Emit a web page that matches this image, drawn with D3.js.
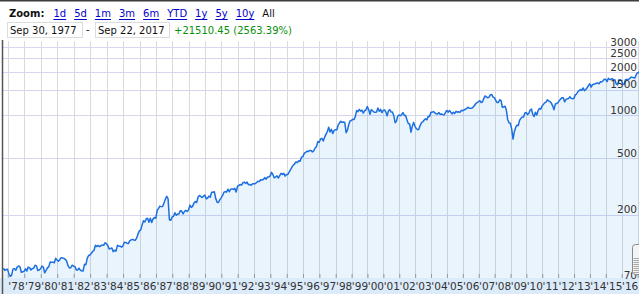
<!DOCTYPE html>
<html>
<head>
<meta charset="utf-8">
<script src="https://cdn.jsdelivr.net/npm/d3@7"></script>
<style>
  html, body { margin: 0; padding: 0; background: #fff; }
  svg { display: block; overflow: hidden; font-family: "DejaVu Sans", Verdana, sans-serif; }
</style>
</head>
<body>
<svg id="chart" width="639" height="294"></svg>
<script>
"use strict";

// monthly closes, Sep 1977 .. Sep 2017
var dow70s = [847, 818, 829, 831,
  770, 742, 757, 837, 841, 819, 862, 877, 866, 793, 799, 805,
  839, 809, 862, 855, 822, 842, 846, 888, 879, 816, 822, 839];
var dow80s = [876, 863, 786, 817, 851, 868, 935, 933, 932, 924, 993, 964,
  947, 975, 1004, 998, 992, 977, 952, 882, 850, 853, 889, 875,
  871, 824, 822, 848, 820, 812, 809, 901, 896, 992, 1039, 1047,
  1076, 1113, 1130, 1226, 1200, 1222, 1199, 1216, 1233, 1225, 1276, 1259,
  1221, 1155, 1165, 1171, 1105, 1132, 1115, 1225, 1207, 1207, 1189, 1212,
  1287, 1284, 1267, 1259, 1316, 1336, 1348, 1334, 1329, 1374, 1472, 1547,
  1571, 1709, 1819, 1784, 1877, 1893, 1775, 1898, 1768, 1878, 1914, 1896,
  2158, 2224, 2305, 2286, 2292, 2419, 2572, 2700, 2596, 1850, 1834, 1939,
  1958, 2072, 1988, 2032, 2031, 2142, 2129, 2032, 2113, 2149, 2115, 2169,
  2342, 2258, 2294, 2419, 2480, 2440, 2661, 2737, 2693, 2645, 2706, 2753];
var dow90s = [2591, 2627, 2707, 2657, 2877, 2881, 2905, 2614, 2453, 2442, 2560, 2634,
  2736, 2882, 2914, 2888, 3028, 2907, 3025, 3044, 3017, 3069, 2895, 3169,
  3224, 3267, 3236, 3359, 3397, 3319, 3394, 3257, 3272, 3226, 3305, 3301,
  3310, 3371, 3435, 3428, 3527, 3516, 3540, 3651, 3555, 3681, 3684, 3754,
  3978, 3832, 3636, 3682, 3758, 3625, 3765, 3913, 3843, 3908, 3739, 3834,
  3844, 4011, 4158, 4321, 4465, 4556, 4709, 4647, 4789, 4756, 5075, 5117,
  5395, 5486, 5587, 5569, 5643, 5655, 5529, 5616, 5882, 6029, 6522, 6448,
  6813, 6878, 6584, 7009, 7331, 7673, 8223, 7622, 7945, 7442, 7823, 7908,
  7907, 8546, 8800, 9063, 8900, 8952, 8883, 7539, 7843, 8592, 9117, 9181,
  9359, 9307, 9786, 10789, 10560, 10971, 10655, 10829, 10337, 10730, 10878, 11497];
var dow00s = [10941, 10128, 10922, 10734, 10522, 10448, 10522, 11215, 10651, 10971, 10415, 10787,
  10887, 10495, 9879, 10735, 10912, 10502, 10523, 9950, 8848, 9075, 9852, 10022,
  9920, 10106, 10404, 9946, 9925, 9243, 8737, 8664, 7592, 8397, 8896, 8342,
  8054, 7891, 7992, 8480, 8850, 8985, 9234, 9416, 9275, 9801, 9782, 10454,
  10488, 10584, 10358, 10226, 10188, 10435, 10140, 10174, 10080, 10027, 10428, 10783,
  10490, 10766, 10504, 10193, 10467, 10275, 10641, 10482, 10569, 10440, 10806, 10718,
  10865, 10993, 11109, 11367, 11168, 11150, 11186, 11381, 11679, 12081, 12221, 12463,
  12622, 12269, 12354, 13063, 13628, 13409, 13212, 13358, 13896, 13930, 13372, 13265,
  12650, 12266, 12263, 12820, 12638, 11350, 11378, 11544, 10851, 9325, 8829, 8776,
  8001, 6800, 7609, 8168, 8500, 8447, 9172, 9496, 9712, 9713, 10345, 10428];
var dow10s = [10067, 10325, 10857, 11009, 10137, 9774, 10466, 10015, 10788, 11118, 11006, 11578,
  11892, 12226, 12320, 12811, 12570, 12414, 12143, 11614, 10913, 11955, 12046, 12218,
  12633, 12952, 13212, 13214, 12393, 12880, 13009, 13091, 13437, 13096, 13026, 13104,
  13861, 14054, 14579, 14840, 15116, 14910, 15500, 14810, 15130, 15546, 16086, 16577,
  15699, 16322, 16458, 16581, 16717, 16827, 16563, 17098, 17043, 17391, 17828, 17823,
  17165, 18133, 17776, 17841, 18011, 17620, 17690, 16528, 16285, 17664, 17720, 17425,
  16466, 16517, 17685, 17774, 17787, 17930, 18432, 18401, 18308, 18142, 19124, 19763,
  19864, 20812, 20663, 20941, 21009, 21350, 21891, 21948, 22349];

var yTicks = [700, 2000, 5000, 10000, 15000, 20000, 25000, 30000];
var yTickLabels = ["70", "200", "500", "1000", "1500", "2000", "2500", "3000"];
var years = d3.range(1978, 2018);
var yearLabels = years.slice(0, -1).map(function(yr) { return "'" + String(yr).slice(2); });

var zoomLinks = ["1d", "5d", "1m", "3m", "6m", "YTD", "1y", "5y", "10y"];
var rangeFrom = "Sep 30, 1977";
var rangeTo = "Sep 22, 2017";
var changeText = "+21510.45 (2563.39%)";

var closes = dow70s.concat(dow80s, dow90s, dow00s, dow10s);
var series = closes.map(function(v, i) {
  return { date: i === 0 ? new Date(1977, 8, 30) : new Date(1977, 8 + i, 28), value: v };
});

var svg = d3.select("#chart");
var plotTop = 41, bandTop = 278;

// x is not quite uniform in the original (it steps by trading days)
var x = d3.scaleTime()
  .domain([new Date(1977, 8, 30), new Date(1979, 0, 1), new Date(1987, 0, 1),
           new Date(1998, 0, 1), new Date(2016, 0, 1), new Date(2017, 8, 22)])
  .range([3.5, 24.3, 156, 335.7, 621.7, 649]);

var y = d3.scaleLog().domain([700, 30000]).range([280, 47]);

// header
svg.append("line")
  .attr("x1", 0).attr("x2", 639).attr("y1", 0.75).attr("y2", 0.75)
  .attr("stroke", "#3c3c3c").attr("stroke-width", 1.5);

var header = svg.append("g").attr("font-size", 10);
var zoomLabel = header.append("text")
  .attr("x", 9).attr("y", 17)
  .attr("font-weight", "bold").attr("fill", "#111")
  .text("Zoom:");

var cursor = 9 + zoomLabel.node().getComputedTextLength() + 9;
zoomLinks.forEach(function(name) {
  var t = header.append("text")
    .attr("x", cursor).attr("y", 17)
    .attr("fill", "#0000cc")
    .text(name);
  var w = t.node().getComputedTextLength();
  header.append("line")
    .attr("x1", cursor).attr("x2", cursor + w)
    .attr("y1", 19.5).attr("y2", 19.5)
    .attr("stroke", "#0000cc").attr("stroke-width", 1);
  cursor += w + 8;
});
header.append("text").attr("x", cursor).attr("y", 17).attr("fill", "#111").text("All");

header.append("rect")
  .attr("x", 7.5).attr("y", 22.5).attr("width", 75).attr("height", 15)
  .attr("fill", "#fff").attr("stroke", "#dcdcdc");
header.append("text").attr("x", 10).attr("y", 33.5).attr("fill", "#111").text(rangeFrom);
header.append("text").attr("x", 86).attr("y", 33).attr("fill", "#111").text("-");
header.append("rect")
  .attr("x", 95.5).attr("y", 22.5).attr("width", 74).attr("height", 15)
  .attr("fill", "#fff").attr("stroke", "#dcdcdc");
header.append("text").attr("x", 98).attr("y", 33.5).attr("fill", "#111").text(rangeTo);
header.append("text").attr("x", 174).attr("y", 33.5).attr("fill", "#0a8f0a").text(changeText);

// grid
var grid = svg.append("g");
grid.selectAll("line.v")
  .data(years)
  .enter().append("line")
  .attr("class", "v")
  .attr("x1", function(yr) { return Math.round(x(new Date(yr, 0, 1))) + 0.5; })
  .attr("x2", function(yr) { return Math.round(x(new Date(yr, 0, 1))) + 0.5; })
  .attr("y1", plotTop).attr("y2", bandTop)
  .attr("stroke", "#dadada");
grid.selectAll("line.h")
  .data(yTicks)
  .enter().append("line")
  .attr("class", "h")
  .attr("x1", 3).attr("x2", 639)
  .attr("y1", function(d) { return Math.round(y(d)) + 0.5; })
  .attr("y2", function(d) { return Math.round(y(d)) + 0.5; })
  .attr("stroke", "#d6d6f0");

// area + line
var area = d3.area()
  .x(function(d) { return x(d.date); })
  .y0(bandTop)
  .y1(function(d) { return y(d.value); });
var line = d3.line()
  .x(function(d) { return x(d.date); })
  .y(function(d) { return y(d.value); });

svg.append("path")
  .datum(series)
  .attr("d", area)
  .attr("fill", "#0a7de6")
  .attr("fill-opacity", 0.085);
svg.append("path")
  .datum(series)
  .attr("d", line)
  .attr("fill", "none")
  .attr("stroke", "#1b6fe0")
  .attr("stroke-width", 1.5)
  .attr("stroke-linejoin", "round");

// bottom band with year ticks and labels
svg.append("rect")
  .attr("x", 0).attr("y", bandTop).attr("width", 639).attr("height", 294 - bandTop)
  .attr("fill", "#dcebf9");

var tickAxis = svg.append("g")
  .attr("transform", "translate(0," + bandTop + ")")
  .call(d3.axisTop(x)
    .tickValues(years.map(function(yr) { return new Date(yr, 0, 1); }))
    .tickSize(4)
    .tickFormat(""));
tickAxis.select(".domain").remove();
tickAxis.selectAll("line").attr("stroke", "#999");

var labelAxis = svg.append("g")
  .attr("transform", "translate(0," + bandTop + ")")
  .call(d3.axisBottom(x)
    .tickValues(years.slice(0, -1).map(function(yr) { return new Date(yr, 6, 2); }))
    .tickSize(0)
    .tickPadding(4.5)
    .tickFormat(function(d, i) { return yearLabels[i]; }));
labelAxis.select(".domain").remove();
labelAxis.selectAll("text")
  .attr("font-family", "DejaVu Sans, Verdana, sans-serif")
  .attr("font-size", 10.5)
  .attr("fill", "#333");

// right value labels
var valueAxis = svg.append("g")
  .attr("transform", "translate(637,0)")
  .call(d3.axisLeft(y)
    .tickValues(yTicks)
    .tickSize(0)
    .tickPadding(0)
    .tickFormat(function(d, i) { return yTickLabels[i]; }));
valueAxis.select(".domain").remove();
valueAxis.selectAll("text")
  .attr("dy", -2)
  .attr("font-family", "DejaVu Sans, Verdana, sans-serif")
  .attr("font-size", 10.5)
  .attr("fill", "#333");

// left frame edge
svg.append("line")
  .attr("x1", 2.5).attr("x2", 2.5).attr("y1", plotTop - 1).attr("y2", 294)
  .attr("stroke", "#555").attr("stroke-width", 1.5);

// navigator handle peeking in at the right edge
var handle = svg.append("g").attr("transform", "translate(632.5,244.5)");
handle.append("rect")
  .attr("width", 12).attr("height", 30).attr("rx", 3)
  .attr("fill", "#f4f4f4").attr("stroke", "#8a8a8a");
handle.selectAll("line")
  .data(d3.range(14, 29, 2))
  .enter().append("line")
  .attr("x1", 1).attr("x2", 11)
  .attr("y1", function(d) { return d; }).attr("y2", function(d) { return d; })
  .attr("stroke", "#a8a8a8");
</script>
</body>
</html>
